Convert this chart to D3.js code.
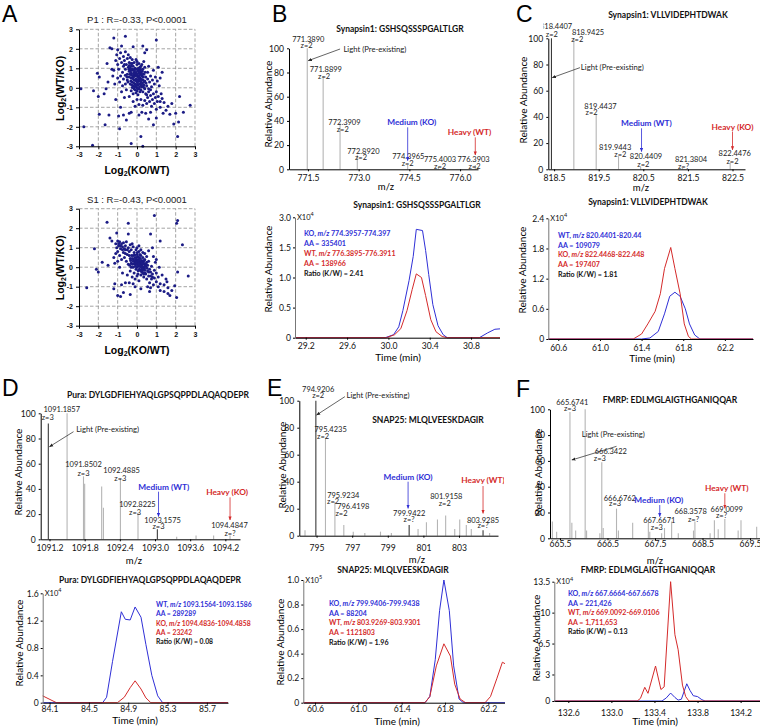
<!DOCTYPE html>
<html><head><meta charset="utf-8">
<script src="https://cdn.jsdelivr.net/npm/d3@7"></script>
<style>body{margin:0;background:#fff}svg{display:block}</style>
</head><body><svg id="c" width="760" height="727"></svg>
<script>
// ---------------- DATA ----------------
const p1Title = "P1 : R=-0.33, P<0.0001";
const s1Title = "S1 : R=-0.43, P<0.0001";
const scatterTicks = [-3,-2,-1,0,1,2,3];
const p1Points = [[-2.9,-0.05],[-2.75,-2.0],[-2.3,-2.95],[-2.25,-0.15],[-2.05,0.75],[-2.0,-0.45],[-1.95,0.55],[-1.95,-1.35],[-1.7,-0.3],[-1.65,-1.9],[-1.6,-0.05],[-1.55,1.25],[-1.5,0.3],[-1.45,-1.4],[-1.4,2.05],[-1.3,2.0],[-1.2,2.55],[-1.2,0.9],[-1.1,-0.6],[-1.05,1.7],[-1.0,1.95],[-0.95,-1.45],[-0.9,-2.1],[-0.85,-1.0],[-0.8,2.15],[-0.7,-1.4],[-0.6,2.65],[-0.55,-1.65],[-0.4,-1.3],[-0.3,-2.85],[-0.2,2.1],[0.1,-1.4],[0.2,-2.5],[0.3,-3.0],[0.3,2.15],[0.4,1.8],[0.5,1.95],[0.6,-1.6],[0.85,-1.9],[1.0,2.45],[1.0,-1.55],[1.2,-1.0],[1.35,-1.3],[1.5,-1.15],[1.6,-0.95],[1.7,-1.35],[1.8,-0.8],[1.9,-1.85],[2.0,-1.3],[2.1,-2.5],[2.15,-1.75],[2.2,-0.45],[2.4,-1.25],[2.75,-0.9],[1.3,0.8],[1.2,0.5],[1.1,1.05],
[-1.1,1.4],[-1.0,1.2],[-0.95,0.95],[-0.9,1.5],[-0.85,1.8],[-0.8,1.3],[-0.75,0.8],[-0.7,1.1],[-0.7,1.6],[-0.65,1.4],[-0.6,0.95],[-0.6,1.85],[-0.55,1.2],[-0.5,1.5],[-0.5,0.7],[-0.45,1.05],[-0.45,1.7],[-0.4,1.3],[-0.4,0.85],[-0.35,1.55],[-0.35,1.0],[-0.3,1.25],[-0.3,0.75],[-0.25,1.45],[-1.3,0.95],[-1.25,0.6],[-1.15,0.2],[-1.0,0.5],[-0.9,0.3],[-0.85,0.6],[-0.8,-0.2],[-0.75,0.1],[-0.7,0.45],[-0.65,-0.5],[-0.6,0.2],[-0.55,-0.1],[-0.5,0.4],
[-0.3,0.5],[-0.25,0.3],[-0.25,0.9],[-0.2,0.6],[-0.2,1.1],[-0.2,0.1],[-0.15,0.8],[-0.15,0.4],[-0.1,1.0],[-0.1,0.6],[-0.1,0.2],[-0.1,-0.1],[-0.05,0.8],[-0.05,0.45],[0,1.2],[0,0.7],[0,0.3],[0,0.0],[0.05,0.9],[0.05,0.55],[0.05,0.15],[0.1,0.75],[0.1,0.35],[0.1,-0.05],[0.15,1.05],[0.15,0.5],[0.15,0.2],[0.2,0.8],[0.2,0.3],[0.2,-0.1],[0.25,0.6],[0.25,0.05],[0.3,0.4],[0.3,-0.2],[0.35,0.15],[0.35,0.7],[0.4,-0.05],[0.4,0.35],[0.45,0.55],[0.45,-0.3],[0.5,0.1],[-0.35,0.2],[-0.4,0.55],[-0.3,-0.15],[-0.2,-0.3],[-0.05,-0.25],[0.05,-0.35],[-0.15,1.3],[0.1,1.25],[-0.3,1.1],[0.25,1.2],[0.3,0.95],[-0.05,1.45],[0.35,1.35],[-0.12,0.05],[0.02,0.6],[-0.08,0.38],[0.12,0.62],[-0.18,0.72],[0.22,0.45],[-0.28,0.65],[0.08,0.85],[-0.02,0.95],[0.18,0.95],[-0.22,0.48],[0.28,0.25],[-0.35,0.85],[0.03,0.25],[0.13,0.05],[-0.07,0.15],
[-0.32,0.35],[-0.27,0.15],[-0.22,0.95],[-0.17,0.25],[-0.13,0.9],[-0.08,0.7],[-0.03,0.1],[0.02,0.4],[0.07,1.0],[0.12,0.45],[0.17,0.7],[0.22,0.15],[0.27,0.85],[0.32,0.55],[0.37,0.3],[0.42,0.8],[0.47,0.25],[-0.37,0.7],[-0.42,0.95],[-0.47,0.3],[-0.52,0.55],[-0.15,-0.05],[0.0,-0.15],[0.15,-0.2],[0.3,0.1],[-0.25,1.25],[0.0,1.35],[0.2,1.1],[-0.4,1.15],[0.4,1.05],[0.55,0.45],[0.6,-0.05],[0.7,-0.1],[0.5,-0.35],[-0.6,0.65],[-0.65,1.2],[-0.18,0.55],[0.09,0.52],[-0.04,0.68],[0.24,0.72],[-0.33,0.95],[0.36,0.02],[0.14,0.88],[-0.24,0.02],[0.04,-0.05],[0.19,0.38],
[0.55,-0.5],[0.6,-0.2],[0.65,0.3],[0.65,-0.7],[0.7,-0.4],[0.75,-0.95],[0.75,0.05],[0.8,-0.6],[0.85,-0.3],[0.9,-0.8],[0.9,0.2],[0.95,-0.5],[1.0,-1.1],[1.0,-0.2],[1.05,-0.7],[1.1,-0.45],[1.15,0.1],[1.2,-0.7],[1.25,-0.3],[1.3,-0.55],[1.4,-0.75],[0.5,-0.8],[0.4,-0.65],[0.3,-0.9],[0.2,-0.6],[0.1,-0.85],[0.0,-0.6],[-0.1,-0.95],[-0.2,-0.7],[-0.3,-1.25],[-0.4,-0.45],[0.45,-1.3],[0.25,-1.25],[0.7,-1.25],[0.55,0.8],[0.6,1.1],[0.7,0.6],[0.8,0.4],[0.85,0.9],[0.95,0.55],[1.05,0.35]];
const s1Points = [[-2.6,-1.05],[-2.2,0.95],[-2.1,-0.1],[-2.0,-0.25],[-1.8,0.25],[-1.55,2.3],[-1.5,0.1],[-1.4,1.5],[-1.3,1.35],[-1.2,-1.1],[-1.15,-0.85],[-1.05,1.75],[-1.0,-1.45],[-0.85,-1.5],[-0.7,-1.3],[-0.45,2.25],[-0.45,1.7],[-0.35,-1.4],[0.7,1.7],[0.9,2.65],[1.2,1.35],[2.05,2.25],[2.1,2.4],[2.35,1.15],[2.65,-0.45],[2.1,-0.25],[2.05,-1.55],[1.7,-1.45],[1.6,-1.35],[1.4,-1.25],[1.2,-1.2],[1.1,-1.0],[1.55,-0.75],[1.6,-1.05],[1.8,-1.2],[1.95,-0.95],[0.65,-1.25],[0.2,-1.1],[0.7,-1.05],[-0.1,-1.0],
[-1.1,1.2],[-1.05,1.0],[-1.0,1.35],[-1.0,0.8],[-0.95,1.1],[-0.9,1.3],[-0.9,0.6],[-0.85,0.95],[-0.8,1.2],[-0.8,0.4],[-0.75,1.05],[-0.7,0.75],[-0.7,1.25],[-0.65,0.5],[-0.6,1.1],[-0.6,0.9],[-0.55,0.3],[-0.55,1.3],[-0.5,0.65],[-0.45,1.0],[-0.45,0.15],[-0.4,0.8],[-0.35,1.15],[-0.35,0.45],[-0.3,0.0],[-0.3,0.9],[-0.25,1.2],[-0.2,0.6],[-1.2,0.5],[-1.15,0.2],[-1.1,0.7],[-1.0,0.3],[-0.9,0.0],[-0.75,-0.3],[-0.6,-0.8],[-0.5,-0.4],[-0.8,-0.9],
[-0.2,0.3],[-0.2,0.0],[-0.15,0.75],[-0.15,-0.3],[-0.1,0.5],[-0.1,0.15],[-0.05,0.9],[-0.05,-0.1],[0,0.35],[0,0.65],[0,0.0],[0.05,0.2],[0.05,-0.35],[0.1,0.5],[0.1,0.05],[0.1,0.8],[0.15,-0.15],[0.15,0.3],[0.2,0.1],[0.2,0.6],[0.2,-0.4],[0.25,0.35],[0.25,-0.1],[0.3,0.0],[0.3,0.5],[0.3,-0.3],[0.35,0.2],[0.35,-0.5],[0.4,-0.15],[0.4,0.4],[0.45,0.05],[0.45,-0.35],[0.5,-0.6],[0.5,0.25],[0.55,-0.2],[-0.25,0.45],[-0.3,0.2],[-0.35,-0.2],[-0.25,-0.5],[-0.1,-0.6],[0.0,-0.45],[0.1,-0.7],[0.08,0.38],[-0.08,0.28],[0.18,0.18],[0.02,0.12],[0.12,0.25],[-0.02,0.5],[0.22,-0.2],[0.28,0.15],[0.15,0.65],[-0.12,0.62],[0.06,-0.18],[0.38,-0.05],[0.32,0.3],[0.42,0.15],[0.0,1.0],[0.1,1.1],[0.2,0.9],[0.3,0.75],[0.4,0.7],[0.5,0.55],[0.6,0.3],[0.6,0.85],[0.65,-0.1],[-0.2,1.05],[-0.4,-0.8],[-0.2,-0.85],
[-0.18,0.42],[-0.13,0.2],[-0.08,0.05],[-0.03,0.4],[0.02,0.75],[0.07,0.3],[0.12,-0.1],[0.17,0.45],[0.22,0.25],[0.27,0.05],[0.32,-0.15],[0.37,0.35],[0.42,-0.3],[0.47,0.15],[0.52,-0.05],[-0.28,0.6],[-0.33,0.35],[-0.38,0.1],[-0.23,0.15],[0.0,0.2],[0.1,0.2],[0.2,0.0],[0.3,0.2],[0.05,0.55],[-0.1,0.35],[0.25,-0.25],[0.35,-0.35],[0.15,0.1],[-0.05,0.25],[0.4,0.05],[-0.5,0.9],[-0.65,0.95],[-0.75,0.9],[-0.85,1.1],[-0.95,1.2],[-0.6,0.7],[-0.4,0.6],[0.55,0.1],[0.6,-0.25],[0.7,-0.45],[0.8,-0.5],
[0.6,-0.45],[0.65,-0.8],[0.7,-0.25],[0.75,0.05],[0.75,-0.6],[0.8,-0.35],[0.85,-0.9],[0.9,-0.15],[0.9,-0.55],[0.95,0.25],[1.0,-0.75],[1.0,-0.3],[1.1,-0.5],[1.15,0.0],[1.2,-0.85],[1.3,-0.4],[1.4,-0.9],[1.5,-0.6],[0.55,-1.0],[0.85,0.55],[1.0,0.4],[0.8,1.0]];

// Spectra (m/z, relative abundance)
const bTitle = "Synapsin1: GSHSQSSSPGALTLGR";
const bMz = [771.48,771.95,772.45,772.96,774.45,775.36,776.45];
const bAb = [100,77,38,12,3.6,2,3.5];
const bTicks = [771.5,773.0,774.5,776.0];
const bLabels = [["771.3890",771.51,107.4],["z=2",771.46,102.2],["771.8899",772.03,82.6],["z=2",771.98,77],["772.3909",772.58,38.3],["z=2",772.53,32.5],["772.8920",773.14,14.6],["z=2",773.07,9.9],["774.3965",774.47,10.5],["z=2",774.45,4.4],["775.4003",775.41,8.2],["z=2",775.41,2.2],["776.3903",776.4,8.2],["z=2",776.43,2.6]];

const cTitle = "Synapsin1: VLLVIDEPHTDWAK";
const cMz = [818.4407,818.9425,819.4437,819.9443,820.4409,821.3804,822.4476];
const cAb = [100,100,42,10,2,1,5];
const cTicks = [818.5,819.5,820.5,821.5,822.5];
const cLabels = [["z=2",818.45,102.8],["818.9425",819.26,104.6],["z=2",819.02,99.2],["819.4437",819.54,48.3],["z=2",819.34,43.3],["819.9443",819.87,17],["z=2",819.985,11.5],["820.4409",820.56,9.7],["z=2",820.5,4],["821.3804",821.57,7.1],["z=?",821.4,2.3],["822.4476",822.55,11.7],["z=2",822.5,6.1]];
const cCutLabel = ["818.4407",818.545,109];

const dTitle = "Pura: DYLGDFIEHYAQLGPSQPPDLAQAQDEPR";
const dMz = [1091.18,1091.50,1091.78,1091.80,1092.09,1092.12,1092.41,1092.71,1093.04,1093.37,1093.70,1094.0,1094.28];
const dAb = [92,100,50,44,42,25,48,21,8,2,3,3,3];
const dTicks = [1091.2,1091.8,1092.4,1093.0,1093.6,1094.2];
const dLabels = [["1091.1857",1091.41,103],["z=3",1091.17,96.6],["1091.8502",1091.78,59],["z=3",1091.78,52.4],["1092.4885",1092.43,55],["z=3",1092.41,48.4],["1092.8225",1092.7,27.8],["z=3",1092.66,21.4],["1093.1575",1093.13,14.8],["z=3",1093.06,10],["1094.4847",1094.27,10.6],["z=?",1094.28,4.8]];

const eTitle = "SNAP25: MLQLVEESKDAGIR";
const eMz = [794.35,794.96,795.5,796.03,796.53,797.06,797.71,798.59,799.2,800.2,800.7,801.17,801.79,802.25,802.76,803.04,803.41,803.69,804.35,804.72];
const eAb = [4,100,72,25,8,3,2,3,2,8,5,10,12,15,5,12,8,5,4,2];
const eTicks = [795,797,799,801,803];
const eLabels = [["794.9206",795.09,108],["z=2",795.09,103.5],["795.4235",795.79,78.3],["z=2",795.37,73.3],["795.9234",796.5,30],["z=2",795.93,25.2],["796.4198",797.06,21.5],["z=2",796.4,16.5],["799.9422",800.2,16.5],["z=?",800.2,12.1],["801.9158",802.29,28.9],["z=2",802.2,24],["803.9285",804.35,11.6],["z=?",804.35,7.2]];

const fTitle = "FMRP: EDLMGLAIGTHGANIQQAR";
const fMz = [665.34,665.43,665.71,665.75,665.83,666.03,666.06,666.34,666.38,666.41,666.69,666.73,667.03,667.36,667.39,667.64,667.7,667.85,667.99,668.31,668.34,668.66,668.75,668.83,668.97,669.25,669.31,669.64];
const fAb = [13,5,98,12,6,100,6,4,59,8,23,6,12,12,5,4,8,13,4,6,13,4,14,7,15,6,14,9];
const fTicks = [665.5,666.5,667.5,668.5,669.5];
const fLabels = [["665.6741",665.76,105],["z=3",665.71,100.8],["666.3422",666.57,67.2],["z=3",666.34,61.5],["666.6762",666.76,31],["z=3",666.66,26.6],["667.6671",667.59,13.7],["z=3",667.54,8.5],["668.3578",668.25,20.7],["z=?",668.31,14.7],["669.0099",669.01,22.5],["z=?",668.9,17.3]];

// Chromatograms [time (min), abundance]
const bBlue = [[29.0,0],[29.97,0],[30.05,0.05],[30.1,0.18],[30.14,0.45],[30.2,0.95],[30.24,1.35],[30.27,1.8],[30.33,1.78],[30.36,1.45],[30.39,1.05],[30.43,0.55],[30.48,0.2],[30.53,0.05],[30.57,0],[30.88,0],[30.96,0.08],[31.03,0.14],[31.1,0.15]];
const bRed = [[29.0,0],[29.98,0],[30.06,0.05],[30.12,0.15],[30.18,0.45],[30.23,0.8],[30.27,1.06],[30.32,1.0],[30.36,0.7],[30.41,0.3],[30.46,0.1],[30.52,0.02],[30.57,0],[31.1,0]];
const bLegend = ["KO, m/z 774.3957-774.397","AA = 335401","WT, m/z 776.3895-776.3911","AA = 138966","Ratio (K/W) = 2.41"];
const cBlue = [[60.4,0],[61.4,0],[61.48,0.02],[61.56,0.15],[61.62,0.5],[61.67,0.85],[61.72,0.93],[61.77,0.85],[61.82,0.6],[61.86,0.3],[61.91,0.08],[61.96,0],[62.6,0]];
const cRed = [[60.4,0],[61.32,0],[61.4,0.1],[61.46,0.3],[61.53,0.55],[61.58,0.9],[61.62,1.4],[61.68,1.82],[61.72,1.4],[61.77,0.9],[61.81,0.3],[61.85,0.05],[61.88,0],[62.6,0]];
const cLegend = ["WT, m/z 820.4401-820.44","AA = 109079","KO, m/z 822.4468-822.448","AA = 197407","Ratio (K/W) = 1.81"];
const dBlue = [[84.0,0],[84.64,0],[84.68,0.08],[84.74,0.6],[84.83,1.33],[84.87,1.22],[84.92,1.21],[84.97,1.4],[85.03,1.25],[85.08,0.85],[85.14,0.4],[85.2,0.1],[85.25,0],[86.0,0]];
const dRed = [[84.0,0.12],[84.03,0.1],[84.17,0],[84.79,0],[84.86,0.08],[84.92,0.22],[84.97,0.32],[85.03,0.2],[85.08,0.07],[85.13,0],[86.0,0]];
const dLegend = ["WT, m/z 1093.1564-1093.1586","AA = 289289","KO, m/z 1094.4836-1094.4858","AA = 23242","Ratio (K/W) = 0.08"];
const eBlue = [[60.4,0],[61.615,0],[61.66,0.05],[61.71,0.35],[61.75,0.75],[61.79,1.0],[61.84,0.75],[61.88,0.3],[61.93,0.03],[61.97,0],[62.5,0]];
const eRed = [[60.4,0],[61.615,0],[61.66,0.05],[61.72,0.3],[61.79,0.48],[61.85,0.38],[61.89,0.15],[61.94,0.03],[61.99,0],[62.17,0],[62.22,0.05],[62.28,0.2],[62.33,0.33],[62.37,0.31]];
const eLegend = ["KO, m/z 799.9406-799.9438","AA = 88204","WT, m/z 803.9269-803.9301","AA = 1121803","Ratio (K/W) = 1.96"];
const fBlue = [[132.4,0],[133.47,0],[133.51,0.35],[133.55,0.9],[133.59,0.4],[133.62,0.1],[133.65,0.2],[133.7,1.95],[133.73,1.2],[133.76,0.6],[133.8,0.5],[133.84,0.15],[133.87,0],[134.5,0]];
const fRed = [[132.4,0],[133.24,0],[133.27,0.3],[133.31,1.55],[133.34,0.87],[133.41,3.96],[133.46,1.3],[133.49,1.6],[133.55,13.5],[133.59,7.5],[133.62,5.8],[133.66,1.8],[133.69,0.5],[133.72,0],[134.5,0]];
const fLegend = ["KO, m/z 667.6664-667.6678","AA =  221,426","WT, m/z 669.0092-669.0106","AA = 1,711,653","Ratio (K/W) =  0.13"];

const specYTicks = [0,20,40,60,80,100];

// ---------------- DRAWING ----------------
const svg = d3.select('#c');
const defs = svg.append('defs');
const FONT = "Lato, 'Open Sans', sans-serif";
const ARIAL = "'Liberation Sans', Arial, sans-serif";
const BLUE = '#2f2fd6', RED = '#d42a2a';
let clipN = 0;
[['k','#222'],['b',BLUE],['r',RED]].forEach(([id,col])=>{
  defs.append('marker').attr('id','arr'+id).attr('viewBox','0 0 10 10').attr('refX',9).attr('refY',5)
   .attr('markerWidth',4).attr('markerHeight',4).attr('markerUnits','userSpaceOnUse').attr('orient','auto')
   .append('path').attr('d','M0,1L10,5L0,9z').attr('fill',col);
});
function clipDef(r){
  const id='clip'+(clipN++);
  defs.append('clipPath').attr('id',id).append('rect').attr('x',r[0]).attr('y',r[1]).attr('width',r[2]-r[0]).attr('height',r[3]-r[1]);
  return `url(#${id})`;
}
function clipGroup(r){
  const g = svg.append('g');
  if (r) g.attr('clip-path',clipDef(r));
  return g;
}
function txt(g,x,y,s,o={}){
  const t = g.append('text').attr('x',x).attr('y',y).text(s)
    .attr('font-size',o.size||8).attr('font-family',o.family||FONT)
    .attr('font-weight',o.weight||'normal').attr('fill',o.fill||'#000')
    .attr('text-anchor',o.anchor||'middle').attr('dominant-baseline',o.base||'central');
  if (o.rotate) t.attr('transform',`rotate(${o.rotate},${x},${y})`);
  return t;
}
function styleAxis(a,size,weight,family){
  a.attr('font-size',size).attr('font-family',family).attr('font-weight',weight);
  a.selectAll('.domain').attr('stroke','#000').attr('stroke-width',1);
  a.selectAll('.tick line').attr('stroke','#000');
  a.selectAll('.tick text').attr('fill','#111');
}

// Panel letters
[['A',2,22],['B',272,22],['C',516,22],['D',2,396],['E',267,396],['F',516,397]].forEach(([l,x,y])=>
  txt(svg,x,y,l,{size:23,family:ARIAL,anchor:'start',base:'auto'}));

// ---- Scatter plots (A)
function logLabel(g,x,y,inner,rot){
  const t = g.append('text').attr('x',x).attr('y',y).attr('font-family',ARIAL).attr('font-weight','bold')
    .attr('font-size',10.5).attr('text-anchor','middle').attr('dominant-baseline','central');
  if (rot) t.attr('transform',`rotate(${rot},${x},${y})`);
  t.append('tspan').text('Log');
  t.append('tspan').attr('font-size',7).attr('dy',3).text('2');
  t.append('tspan').attr('dy',-3).text(inner);
}
function scatter(pts,title,top){
  const g = svg.append('g');
  const x = d3.scaleLinear([-3,3],[79,195]);
  const y = d3.scaleLinear([-3,3],[top+117,top]);
  const gv = [-2,-1,0,1,2,3];
  g.selectAll('line.gx').data(gv).join('line').attr('x1',d=>x(d)).attr('x2',d=>x(d)).attr('y1',y(-3)).attr('y2',y(3))
    .attr('stroke','#9a9a9a').attr('stroke-dasharray','3.5,2').attr('stroke-width',0.9);
  g.selectAll('line.gy').data(gv).join('line').attr('y1',d=>y(d)).attr('y2',d=>y(d)).attr('x1',x(-3)).attr('x2',x(3))
    .attr('stroke','#9a9a9a').attr('stroke-dasharray','3.5,2').attr('stroke-width',0.9);
  g.selectAll('circle').data(pts).join('circle').attr('cx',d=>x(d[0])).attr('cy',d=>y(d[1])).attr('r',1.5).attr('fill','#1b1b85');
  const ax = g.append('g').attr('transform',`translate(0,${y(-3)})`)
    .call(d3.axisBottom(x).tickValues(scatterTicks).tickSize(3).tickSizeOuter(0).tickFormat(d=>String(d)));
  styleAxis(ax,7,'bold',ARIAL);
  const ay = g.append('g').attr('transform',`translate(${x(-3)},0)`)
    .call(d3.axisLeft(y).tickValues(scatterTicks).tickSize(3).tickSizeOuter(0).tickFormat(d=>String(d)));
  styleAxis(ay,7,'bold',ARIAL);
  txt(g,137,top-9.5,title,{size:9.5,family:ARIAL,fill:'#222'});
  logLabel(g,60,top+59,'(WT/KO)',-90);
  logLabel(g,137,top+141,'(KO/WT)',0);
}
scatter(p1Points,p1Title,29.3);
scatter(s1Points,s1Title,208.7);

// ---- Spectra
function spectrum(c){
  const g = clipGroup(c.clip);
  const x = d3.scaleLinear(c.domain,[c.left,c.right]);
  const y = d3.scaleLinear([0,100],[c.bottom,c.top]);
  g.selectAll('line.pk').data(c.mz.map((m,i)=>({m,a:c.ab[i],dark:c.dark.includes(i)}))).join('line')
    .attr('x1',d=>x(d.m)).attr('x2',d=>x(d.m)).attr('y1',y(0)).attr('y2',d=>y(d.a))
    .attr('stroke',d=>d.dark?'#3a3a3a':'#b5b5b5').attr('stroke-width',1.1);
  const ax = g.append('g').attr('transform',`translate(0,${c.bottom})`)
    .call(d3.axisBottom(x).tickValues(c.ticks).tickSize(2).tickSizeOuter(0).tickFormat(d3.format(c.fmt)));
  styleAxis(ax,8.6,'normal',FONT);
  ax.selectAll('.tick text').attr('y',c.tickY-c.bottom).attr('dy','0.35em');
  const ay = g.append('g').attr('transform',`translate(${c.left},0)`)
    .call(d3.axisLeft(y).tickValues(specYTicks).tickSize(2).tickSizeOuter(0));
  styleAxis(ay,8.6,'normal',FONT);
  ay.selectAll('.tick text').attr('x',-5);
  c.labels.forEach(([t,m,a])=>txt(g,x(m),y(a),t,{size:7.5,fill:'#222'}));
  if (c.cut){
    const [t,m,a] = c.cut;
    txt(g,x(m),y(a),t,{size:7.5,fill:'#222'}).attr('clip-path',clipDef(c.cutClip));
  }
  const L = c.light;
  g.append('line').attr('x1',x(L.x1)).attr('y1',y(L.y1)).attr('x2',x(L.x2)).attr('y2',y(L.y2))
    .attr('stroke','#222').attr('stroke-width',0.7).attr('marker-end','url(#arrk)');
  txt(g,x(L.tx),y(L.ty),'Light (Pre-existing)',{size:7.7,anchor:'start',fill:'#222'});
  [[c.med,c.medText,BLUE,'b'],[c.heavy,c.heavyText,RED,'r']].forEach(([A,t,col,id])=>{
    g.append('line').attr('x1',x(A.ax)).attr('x2',x(A.ax)).attr('y1',y(A.a1)).attr('y2',y(A.a2))
      .attr('stroke',col).attr('stroke-width',0.8).attr('marker-end',`url(#arr${id})`);
    txt(g,x(A.tx),y(A.ty),t,{size:8.3,weight:'bold',fill:col});
  });
  txt(g,c.titleX,c.titleY,c.title,{size:8.5,weight:'bold',fill:'#111'});
  txt(g,c.mzX,c.mzY,'m/z',{size:9.5});
  txt(g,c.ylabX,c.ylabY,'Relative Abundance',{size:10,rotate:-90});
}
spectrum({mz:bMz,ab:bAb,dark:[],labels:bLabels,ticks:bTicks,fmt:'.1f',title:bTitle,
  left:289,right:478,top:48.3,bottom:169.3,domain:[770.94,776.53],tickY:177.5,
  titleX:400,titleY:29,mzX:386,mzY:186,ylabX:268,ylabY:104,
  light:{tx:772.55,ty:99.4,x1:772.45,y1:99.4,x2:771.51,y2:89.8},
  med:{tx:774.57,ty:39.4,ax:774.45,a1:34.7,a2:7.2},medText:'Medium (KO)',
  heavy:{tx:776.28,ty:30.6,ax:776.45,a1:26.4,a2:11.8},heavyText:'Heavy (WT)',clip:[245,0,500,192]});
spectrum({mz:cMz,ab:cAb,dark:[0],labels:cLabels,ticks:cTicks,fmt:'.1f',title:cTitle,cut:cCutLabel,cutClip:[543.5,0,760,192],
  left:548.3,right:745,top:38.3,bottom:169.3,domain:[818.37,822.78],tickY:177.5,
  titleX:668,titleY:15,mzX:641,mzY:187,ylabX:523,ylabY:100,
  light:{tx:819.1,ty:78.4,x1:819.08,y1:77.6,x2:818.46,y2:70},
  med:{tx:820.57,ty:35.6,ax:820.46,a1:31.3,a2:13.5},medText:'Medium (WT)',
  heavy:{tx:822.5,ty:32.6,ax:822.5,a1:28.8,a2:14.8},heavyText:'Heavy (KO)',clip:[500,0,760,192]});
spectrum({mz:dMz,ab:dAb,dark:[0,8],labels:dLabels,ticks:dTicks,fmt:'.1f',title:dTitle,
  left:40.7,right:240,top:413.3,bottom:539.3,domain:[1091.05,1094.45],tickY:548,
  titleX:158,titleY:395,mzX:134,mzY:560,ylabX:18,ylabY:472,
  light:{tx:1091.655,ty:87.6,x1:1091.61,y1:85.4,x2:1091.2,y2:73.5},
  med:{tx:1093.15,ty:41.8,ax:1093.06,a1:37.8,a2:18},medText:'Medium (WT)',
  heavy:{tx:1094.23,ty:37.3,ax:1094.28,a1:33.3,a2:15.3},heavyText:'Heavy (KO)',clip:[0,380,252,566]});
spectrum({mz:eMz,ab:eAb,dark:[1,9,18],labels:eLabels,ticks:eTicks,fmt:'d',title:eTitle,
  left:299.3,right:498,top:400.7,bottom:535.7,domain:[794.03,805.19],tickY:548,
  titleX:428,titleY:420,mzX:417,mzY:559,ylabX:282,ylabY:465,
  light:{tx:796.68,ty:104.2,x1:796.59,y1:103,x2:795.0,y2:89.4},
  med:{tx:800.14,ty:43.7,ax:800.14,a1:40,a2:20.2},medText:'Medium (KO)',
  heavy:{tx:804.35,ty:41.2,ax:804.35,a1:36.8,a2:16.5},heavyText:'Heavy (WT)',clip:[255,380,504,566]});
spectrum({mz:fMz,ab:fAb,dark:[],labels:fLabels,ticks:fTicks,fmt:'.1f',title:fTitle,
  left:550,right:760,top:409.3,bottom:538.3,domain:[665.29,669.71],tickY:544,
  titleX:670,titleY:400,mzX:655,mzY:560,ylabX:538,ylabY:472,
  light:{tx:665.96,ty:80.6,x1:666.69,y1:71.3,x2:665.75,y2:60.7},
  med:{tx:667.58,ty:29.7,ax:667.6,a1:25.8,a2:16.8},medText:'Medium (KO)',
  heavy:{tx:669.01,ty:38.8,ax:668.97,a1:34.9,a2:23.3},heavyText:'Heavy (WT)',clip:[505,380,760,566]});

// ---- Chromatograms
function chrom(c){
  const g = clipGroup(c.clip);
  const x = d3.scaleLinear(c.xdom,[c.left,c.right]);
  const y = d3.scaleLinear(c.ydom,[c.bottom,c.top]);
  const pg = g.append('g').attr('clip-path',clipDef([c.left,c.top-30,c.right,c.bottom+1]));
  const line = d3.line().x(d=>x(d[0])).y(d=>y(d[1]));
  pg.append('path').attr('d',line(c.blue)).attr('fill','none').attr('stroke',BLUE).attr('stroke-width',1);
  pg.append('path').attr('d',line(c.red)).attr('fill','none').attr('stroke',RED).attr('stroke-width',1);
  const ax = g.append('g').attr('transform',`translate(0,${c.bottom})`)
    .call(d3.axisBottom(x).tickValues(c.xticks).tickSize(2).tickSizeOuter(0).tickFormat(d3.format('.1f')));
  styleAxis(ax,8.6,'normal',FONT);
  ax.selectAll('.tick text').attr('y',c.tickY-c.bottom).attr('dy','0.35em');
  const ay = g.append('g').attr('transform',`translate(${c.left},0)`)
    .call(d3.axisLeft(y).tickValues(c.yticks).tickSize(2).tickSizeOuter(0).tickFormat((d,i)=>c.ylabels[i]));
  styleAxis(ay,8.6,'normal',FONT);
  ay.select('.domain').attr('stroke','#777');
  ay.selectAll('.tick text').attr('x',-4);
  const e = txt(g,c.left+2,c.top,'X10',{size:7.5,anchor:'start',fill:'#111'});
  e.append('tspan').attr('font-size',5.5).attr('dy',-3).text(c.exp);
  const cols = [BLUE,BLUE,RED,RED,'#111'];
  c.legend.forEach((s,i)=>{
    const t = txt(g,c.lx,c.ly+i*c.ld,'',{size:c.lsize||7.1,weight:'bold',anchor:'start',fill:cols[i]});
    const parts = s.split('m/z');
    t.append('tspan').text(parts[0]);
    if (parts.length>1){ t.append('tspan').attr('font-style','italic').text('m/z'); t.append('tspan').text(parts[1]); }
  });
  txt(g,c.titleX,c.titleY,c.title,{size:8.5,weight:'bold',fill:'#111'});
  txt(g,c.timeX,c.timeY,'Time (min)',{size:10});
  txt(g,c.ylabX,c.ylabY,'Relative Abundance',{size:10,rotate:-90});
}
chrom({blue:bBlue,red:bRed,legend:bLegend,title:bTitle,exp:'4',
  left:295,right:500,top:217.3,bottom:337.7,xdom:[29.096,31.08],ydom:[0,2],
  xticks:[29.2,29.6,30.0,30.4,30.8],yticks:[0,0.5,1,1.5,2],ylabels:['0','0.5','1.0','1.5','3.0'],
  tickY:345.7,titleX:417,titleY:205,timeX:398,timeY:357,ylabX:268,ylabY:269,lx:304,ly:233.3,ld:9.8,clip:[245,192,500,372]});
chrom({blue:cBlue,red:cRed,legend:cLegend,title:cTitle,exp:'4',
  left:548.3,right:753,top:218.3,bottom:339,xdom:[60.504,62.47],ydom:[0,2.4],
  xticks:[60.6,61.0,61.4,61.8,62.2],yticks:[0,0.6,1.2,1.8,2.4],ylabels:['0','0.6','1.2','1.8','2.4'],
  tickY:348,titleX:648,titleY:202,timeX:652,timeY:358,ylabX:522,ylabY:270,lx:558,ly:235,ld:9.7,clip:[500,192,760,372]});
chrom({blue:dBlue,red:dRed,legend:dLegend,title:dTitle,exp:'4',lsize:6.8,
  left:42.7,right:228,top:593.3,bottom:702.7,xdom:[84.03,85.915],ydom:[0,1.6],
  xticks:[84.1,84.5,84.9,85.3,85.7],yticks:[0,0.4,0.8,1.2,1.6],ylabels:['0','0.4','0.8','1.2','1.6'],
  tickY:709.5,titleX:150,titleY:580,timeX:135,timeY:719.5,ylabX:19,ylabY:643,lx:156,ly:604,ld:9.3,clip:[0,566,254,727]});
chrom({blue:eBlue,red:eRed,legend:eLegend,title:eTitle,exp:'5',
  left:303.3,right:505,top:580,bottom:702.7,xdom:[60.492,62.354],ydom:[0,1],
  xticks:[60.6,61.0,61.4,61.8,62.2],yticks:[0,0.2,0.4,0.6,0.8,1.0],ylabels:['0','0.2','0.4','0.6','0.8','1.0'],
  tickY:709.5,titleX:393,titleY:570,timeX:397,timeY:720.5,ylabX:280,ylabY:642,lx:329,ly:603,ld:9.7,clip:[255,566,505,727]});
chrom({blue:fBlue,red:fRed,legend:fLegend,title:fTitle,exp:'4',
  left:554.3,right:760,top:581.7,bottom:701,xdom:[132.47,134.38],ydom:[0,13.5],
  xticks:[132.6,133.0,133.4,133.8,134.2],yticks:[0,3,6.5,10,13.5],ylabels:['0','3','6.5','10','13.5'],
  tickY:712.7,titleX:648,titleY:570,timeX:655,timeY:721,ylabX:536,ylabY:638,lx:568,ly:593,ld:9.5,clip:[505,566,760,727]});
</script></body></html>
